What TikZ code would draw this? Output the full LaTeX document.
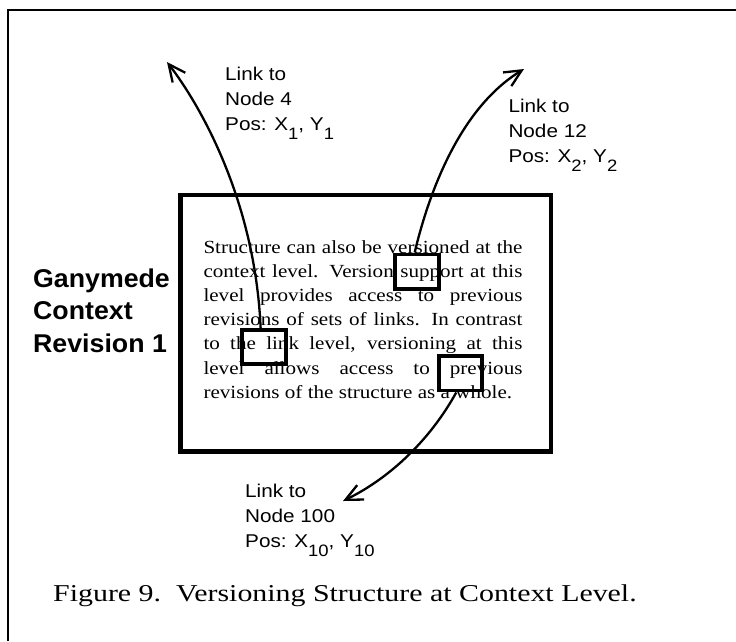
\documentclass[tikz,border=0pt]{standalone}
\usepackage{fontspec}
\setmainfont{Liberation Serif}
\newfontfamily\bodyfont[FakeStretch=1.14]{Liberation Serif}
\newfontfamily\capfont[FakeStretch=1.235]{Liberation Serif}
\newfontfamily\labfont[FakeStretch=1.12]{Liberation Sans}
\newfontfamily\titlefont[FakeStretch=1.04]{Liberation Sans}
\usetikzlibrary{arrows.meta}

% lowered index digit used in the position labels
\newcommand{\lowidx}[1]{\raisebox{-8.5pt}{\fontsize{16.5}{16.5}\selectfont #1}}

\tikzset{
  frame/.style={line width=2pt},
  ctxbox/.style={draw, line width=4.5pt, inner sep=0pt},
  hl/.style={draw, line width=3.8pt, inner sep=0pt, minimum width=43.4pt, minimum height=34.5pt},
  link/.style={line width=2.3pt, -{Straight Barb[length=17pt, width=16pt, line width=2.3pt]}},
  lab/.style={anchor=north west, inner sep=0pt, align=left,
    font=\labfont\fontsize{18.5}{25.3}\selectfont},
  bodytext/.style={anchor=north west, inner sep=0pt, text width=319pt, align=justify,
    font=\bodyfont\fontsize{18.5}{24.2}\selectfont},
  titletext/.style={anchor=north west, inner sep=0pt, align=left,
    font=\titlefont\bfseries\fontsize{25.7}{32.5}\selectfont},
  captext/.style={anchor=base west, inner sep=0pt,
    font=\capfont\fontsize{24.2}{29}\selectfont}
}

\begin{document}
\begin{tikzpicture}[x=1pt, y=-1pt]
\useasboundingbox (0,0) rectangle (736,641);

% outer frame (only top and left edges fall inside the page)
\draw[frame] (7.5,641) -- (7.5,10) -- (736,10);

% context window
\node[ctxbox, minimum width=370.5pt, minimum height=256.5pt] (ctx) at (365.75,323.25) {};

% body text of the context
\node[bodytext] (body) at (203.3,240) {\tolerance=10000\hyphenpenalty=10000
Structure can also be versioned at the\linebreak
context level.  Version support at this\linebreak
level provides access to previous\linebreak
revisions of sets of links.  In contrast\linebreak
to the link level, versioning at this\linebreak
level allows access to previous\linebreak
revisions of the structure as a whole.};

% link anchors in the text
\node[hl] (h1) at (264,347) {};
\node[hl] (h2) at (417,271.7) {};
\node[hl] (h3) at (460.3,373.3) {};

% title at the left
\node[titletext] (title) at (33,268.3) {Ganymede\\Context\\Revision 1};

% link destinations
\coordinate (t1) at (167,62);
\coordinate (t2) at (524,69);
\coordinate (t3) at (343,501);

\draw[link] (h1.100) .. controls (255,200) and (200,105) .. (t1);
\draw[link] (h2.97) .. controls (432,180) and (465,105) .. (t2);
\draw[link] (h3.258) .. controls (430,440) and (390,478) .. (t3);

% link labels
\node[lab] (l1) at (225,66.7) {Link to\\Node 4\\Pos: X\lowidx{1}, Y\lowidx{1}};
\node[lab] (l2) at (508.3,98.4) {Link to\\Node 12\\Pos: X\lowidx{2}, Y\lowidx{2}};
\node[lab] (l3) at (245,483.4) {Link to\\Node 100\\Pos: X\lowidx{10}, Y\lowidx{10}};

% caption
\node[captext] (cap) at (53,601.7) {Figure 9.\ \ Versioning Structure at Context Level.};
\end{tikzpicture}
\end{document}
